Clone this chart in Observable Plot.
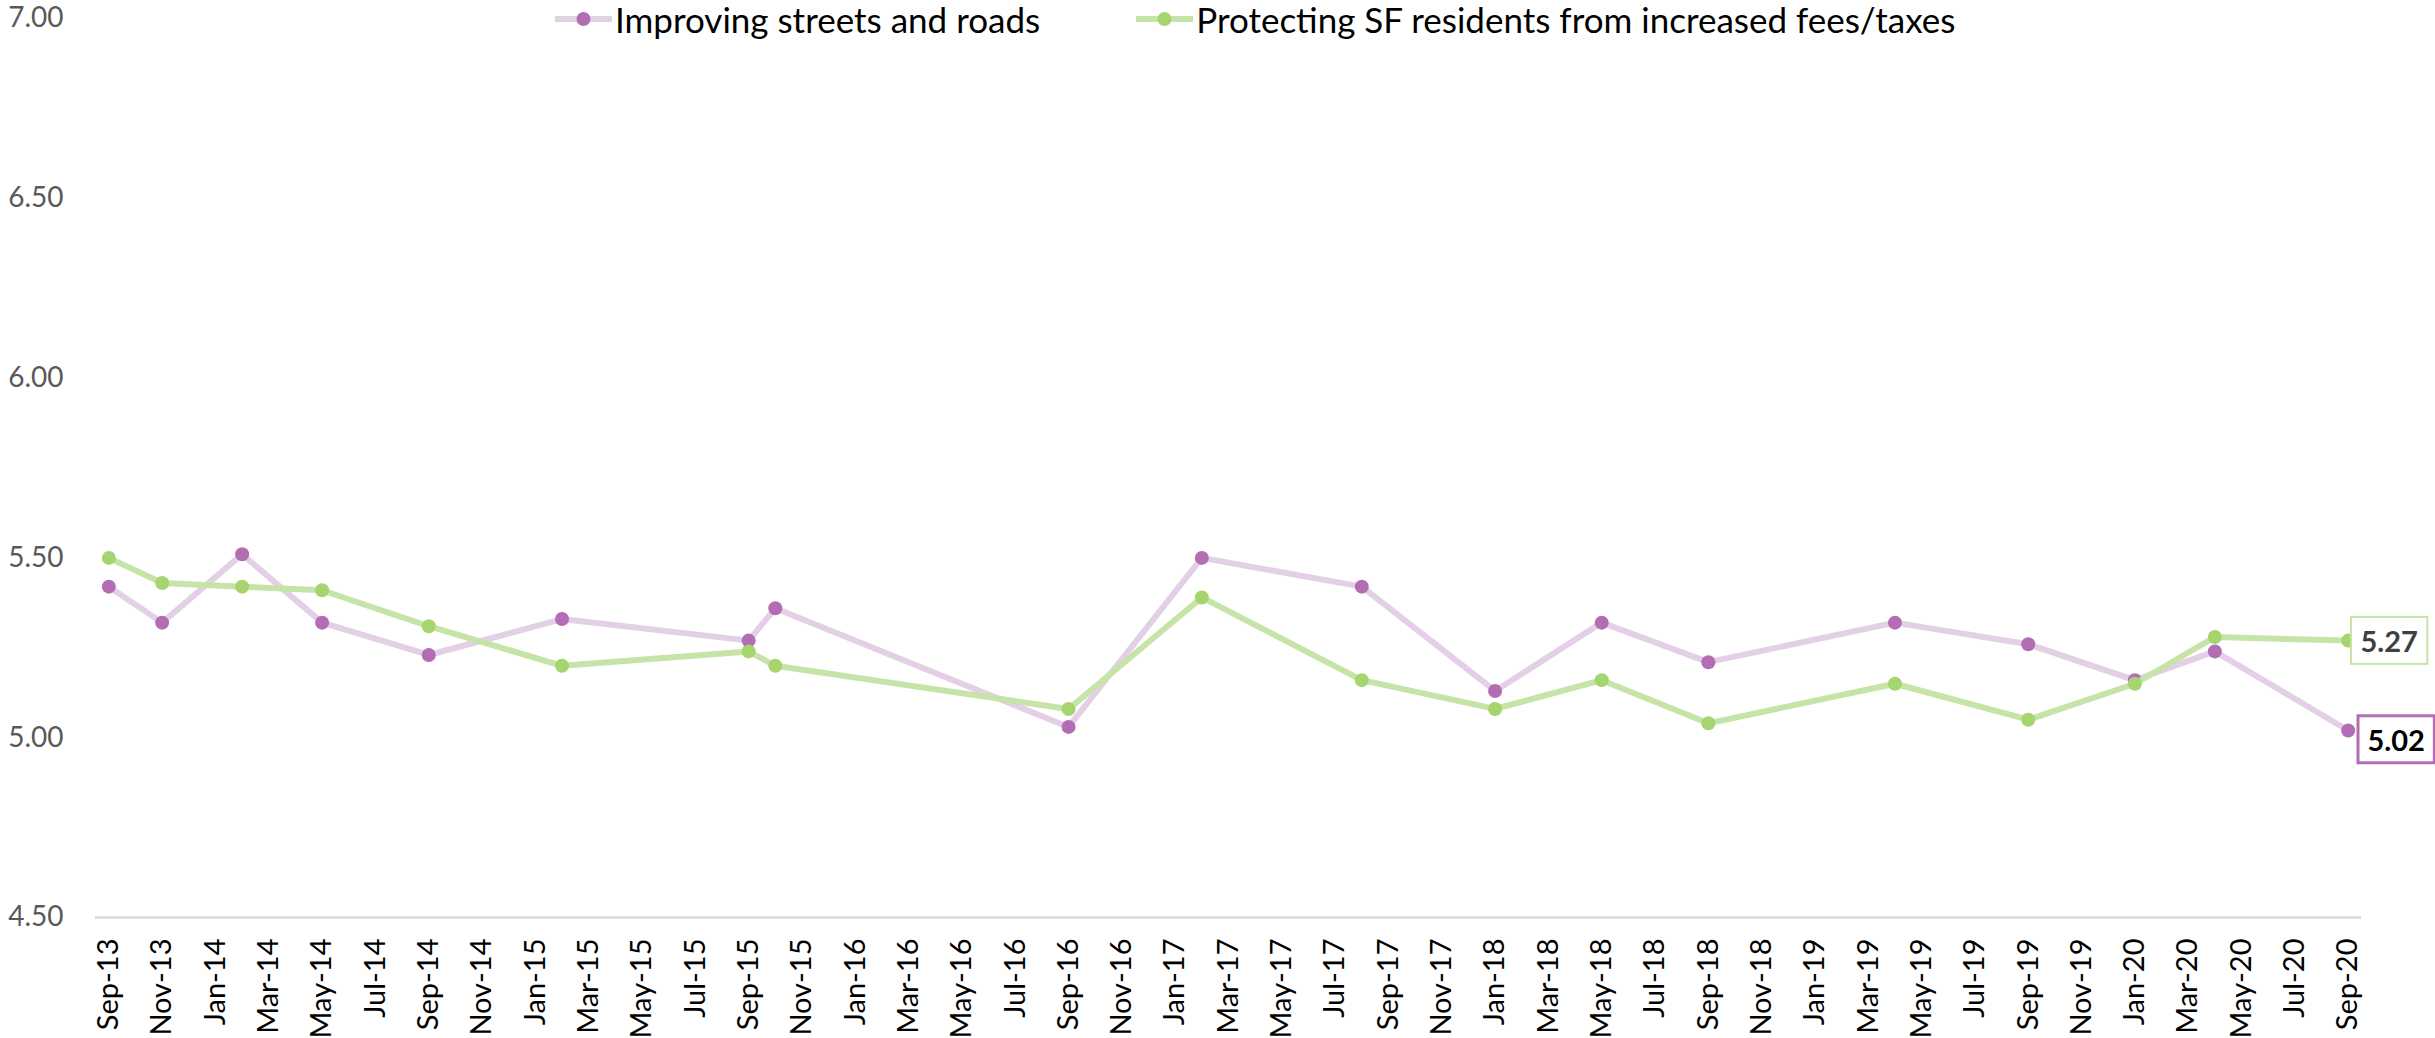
<!DOCTYPE html>
<html>
<head>
<meta charset="utf-8">
<script src="https://cdn.jsdelivr.net/npm/d3@7"></script>
<script src="https://cdn.jsdelivr.net/npm/@observablehq/plot@0.6"></script>
<style>
  html, body { margin: 0; padding: 0; background: #fff; }
  #wrap { position: relative; width: 2435px; height: 1038px; font-family: Lato, sans-serif; }
  #legend { position: absolute; top: 0; left: 555px; height: 38px; display: flex; align-items: center; font-size: 35px; color: #000; white-space: nowrap; }
  .item { display: flex; align-items: center; }
  .item svg { display: block; margin-right: 3px; }
</style>
</head>
<body>
<div id="wrap">
  <div id="legend"></div>
  <div id="chart"></div>
</div>
<script>
// ---- data ----
const dates = ["2013-09","2013-11","2014-02","2014-05","2014-09","2015-02","2015-09","2015-10","2016-09","2017-02","2017-08","2018-01","2018-05","2018-09","2019-04","2019-09","2020-01","2020-04","2020-09"];
const streets = [5.42, 5.32, 5.51, 5.32, 5.23, 5.33, 5.27, 5.36, 5.03, 5.50, 5.42, 5.13, 5.32, 5.21, 5.32, 5.26, 5.16, 5.24, 5.02];
const fees    = [5.50, 5.43, 5.42, 5.41, 5.31, 5.20, 5.24, 5.20, 5.08, 5.39, 5.16, 5.08, 5.16, 5.04, 5.15, 5.05, 5.15, 5.28, 5.27];
const seriesNames = ["Improving streets and roads", "Protecting SF residents from increased fees/taxes"];
const tickLabels = ["Sep-13","Nov-13","Jan-14","Mar-14","May-14","Jul-14","Sep-14","Nov-14","Jan-15","Mar-15","May-15","Jul-15","Sep-15","Nov-15","Jan-16","Mar-16","May-16","Jul-16","Sep-16","Nov-16","Jan-17","Mar-17","May-17","Jul-17","Sep-17","Nov-17","Jan-18","Mar-18","May-18","Jul-18","Sep-18","Nov-18","Jan-19","Mar-19","May-19","Jul-19","Sep-19","Nov-19","Jan-20","Mar-20","May-20","Jul-20","Sep-20"];
const yTicks = [4.5, 5.0, 5.5, 6.0, 6.5, 7.0];

// ---- styles ----
const colors = {
  streetsLine: "#e4d0e6", streetsDot: "#b36db3",
  feesLine: "#c6e4a7", feesDot: "#a6d46e"
};

const monthIndex = s => { const [y, m] = s.split("-").map(Number); return (y - 2013) * 12 + (m - 9); };
const rowsStreets = dates.map((d, i) => ({ x: monthIndex(d), y: streets[i] }));
const rowsFees = dates.map((d, i) => ({ x: monthIndex(d), y: fees[i] }));
const tickIdx = tickLabels.map((_, i) => i * 2);

const chart = Plot.plot({
  width: 2435,
  height: 1038,
  marginLeft: 95,
  marginRight: 74,
  marginTop: 18,
  marginBottom: 121,
  style: { fontFamily: "Lato, sans-serif", background: "white", overflow: "visible" },
  x: { type: "linear", domain: [-0.5, 84.5] },
  y: { domain: [4.5, 7.0] },
  marks: [
    Plot.ruleY([4.5], { stroke: "#d9d9d9", strokeWidth: 2.5 }),
    Plot.axisY({ ticks: yTicks, tickFormat: d3.format(".2f"), tickSize: 0, tickPadding: 32, fontSize: 28, fill: "#595959", label: null }),
    Plot.axisX({ ticks: tickIdx, tickFormat: d => tickLabels[d / 2], tickRotate: -90, tickSize: 0, tickPadding: 21, fontSize: 29, fill: "#000", label: null }),
    Plot.line(rowsStreets, { x: "x", y: "y", stroke: colors.streetsLine, strokeWidth: 6 }),
    Plot.dot(rowsStreets, { x: "x", y: "y", r: 7, fill: colors.streetsDot }),
    Plot.line(rowsFees, { x: "x", y: "y", stroke: colors.feesLine, strokeWidth: 6 }),
    Plot.dot(rowsFees, { x: "x", y: "y", r: 7, fill: colors.feesDot }),
    Plot.text(rowsFees.slice(-1), { x: "x", y: "y", text: d => d.y.toFixed(2), dx: 41, dy: 2, fontSize: 29, fontWeight: "bold", fill: "#404040" }),
    Plot.text(rowsStreets.slice(-1), { x: "x", y: "y", text: d => d.y.toFixed(2), dx: 48, dy: 11, fontSize: 29, fontWeight: "bold", fill: "#000" })
  ]
});
document.getElementById("chart").appendChild(chart);

// boxes around end labels
const boxStyles = [[fees[fees.length - 1].toFixed(2), colors.feesLine, 2], [streets[streets.length - 1].toFixed(2), colors.streetsDot, 3]];
const boldTexts = Array.from(chart.querySelectorAll('g[font-weight="bold"] text'));
boxStyles.forEach(([label, stroke, sw]) => {
  const t = boldTexts.find(e => e.textContent === label);
  if (!t) return;
  const b = t.getBBox();
  const w = b.width + 19, h = 47;
  const cx = b.x + b.width / 2, cy = b.y + b.height / 2;
  const r = document.createElementNS("http://www.w3.org/2000/svg", "rect");
  r.setAttribute("x", cx - w / 2);
  r.setAttribute("y", cy - h / 2);
  r.setAttribute("width", w);
  r.setAttribute("height", h);
  r.setAttribute("fill", "white");
  r.setAttribute("stroke", stroke);
  r.setAttribute("stroke-width", sw);
  const tr = t.getAttribute("transform");
  if (tr) r.setAttribute("transform", tr);
  t.parentNode.insertBefore(r, t);
});

// legend
const legend = document.getElementById("legend");
[[seriesNames[0], colors.streetsLine, colors.streetsDot], [seriesNames[1], colors.feesLine, colors.feesDot]].forEach(([name, lc, dc], i) => {
  const item = document.createElement("div");
  item.className = "item";
  if (i > 0) item.style.marginLeft = "96px";
  item.innerHTML = `<svg width="57" height="20"><line x1="0" x2="57" y1="10" y2="10" stroke="${lc}" stroke-width="6" stroke-linecap="round"/><circle cx="28.5" cy="10" r="7" fill="${dc}"/></svg><span>${name}</span>`;
  legend.appendChild(item);
});
</script>
</body>
</html>
